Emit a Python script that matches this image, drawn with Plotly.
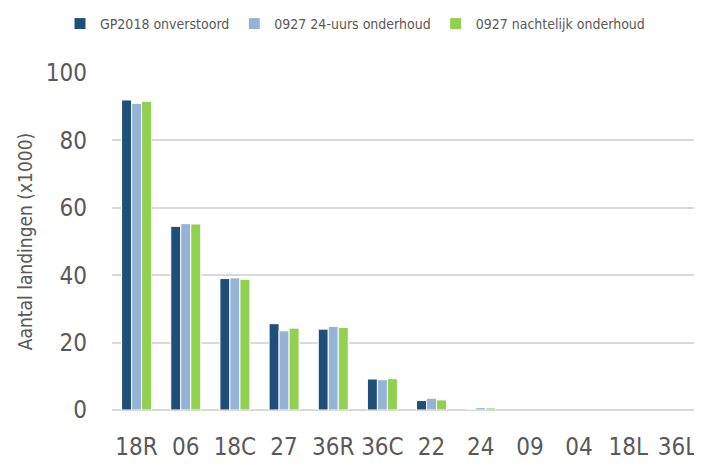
import plotly.graph_objects as go

categories = ["18R", "06", "18C", "27", "36R", "36C", "22", "24", "09", "04", "18L", "36L"]
gp2018 = [92.0, 54.5, 39.0, 25.6, 24.0, 9.2, 2.8, 0.2, 0, 0, 0, 0]
uurs24 = [91.0, 55.3, 39.2, 23.5, 24.8, 9.0, 3.5, 0.7, 0, 0, 0, 0]
nachtelijk = [91.6, 55.2, 38.8, 24.3, 24.5, 9.3, 3.0, 0.6, 0, 0, 0, 0]
series_names = ["GP2018 onverstoord", "0927 24-uurs onderhoud", "0927 nachtelijk onderhoud"]
colors = ["#1F4E79", "#95B3D7", "#92D050"]
y_ticks = [0, 20, 40, 60, 80, 100]

FONT = "DejaVu Sans Condensed, sans-serif"

fig = go.Figure()
for name, vals, col in zip(series_names, [gp2018, uurs24, nachtelijk], colors):
    fig.add_trace(go.Bar(x=categories, y=vals, name=name,
                         marker=dict(color=col,
                                     line=dict(color="white", width=[1 if v > 0 else 0 for v in vals]))))

fig.update_layout(
    width=694, height=460,
    margin=dict(l=104, r=0, t=65, b=58, autoexpand=False),
    paper_bgcolor="white", plot_bgcolor="white",
    barmode="group", bargap=0.39, bargroupgap=0.0,
    font=dict(family=FONT, color="#595959"),
    legend=dict(orientation="h", xref="container", x=0.5, xanchor="center",
                yref="container", y=1.0, yanchor="top",
                font=dict(size=14, color="#595959"), traceorder="normal", itemwidth=30),
    xaxis=dict(tickfont=dict(size=24, color="#595959"), showgrid=False, showline=False,
               ticks="", ticklen=0, automargin=False, ticklabelstandoff=20),
    yaxis=dict(range=[0, 100], tickvals=y_ticks, tickfont=dict(size=24, color="#595959"),
               showgrid=True, gridcolor="#D9D9D9", gridwidth=1.5, zeroline=True,
               zerolinecolor="#D9D9D9", zerolinewidth=1.5, showline=False, automargin=False,
               title=dict(text="Aantal landingen (x1000)", font=dict(size=19, color="#595959"), standoff=8),
               ticks="", ticklabelstandoff=24),
)
fig.write_html("out.html")
